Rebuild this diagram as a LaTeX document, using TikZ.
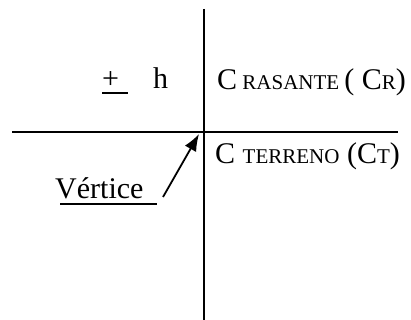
\documentclass[tikz,border=0pt]{standalone}
\usepackage{fontspec}
\setmainfont{Liberation Serif}
\usetikzlibrary{arrows.meta}

\newcommand{\smc}[1]{{\fontsize{21}{24}\selectfont #1}}

\begin{document}
\begin{tikzpicture}[x=1pt, y=-1pt]

  \tikzset{axis/.style = {line width=1.8pt}}
  \tikzset{lbl/.style = {inner sep=0pt, anchor=base west, font=\fontsize{30}{36}\selectfont}}
  \tikzset{edge/.style = {-{Latex[length=17pt,width=13pt]}, line width=1.8pt}}
  \useasboundingbox (0,0) rectangle (411,320);
  % axes
  \coordinate (top) at (204,9);
  \coordinate (bot) at (204,320);
  \coordinate (lft) at (12,132);
  \coordinate (rgt) at (398,132);
  \draw[axis] (top) -- (bot);
  \draw[axis] (lft) -- (rgt);
  % labels
  \node[lbl] (plus) at (102,89) {+};
  \node[lbl] (h) at (153,89) {h};
  \node[lbl] (rasante) at (217,90) {C\smc{ RASANTE}\,( C\smc{R})};
  \node[lbl] (terreno) at (215,164) {C \smc{TERRENO} (C\smc{T})};
  \node[lbl] (vertice) at (55,198) {Vértice};
  % underlines
  \draw[axis] ([yshift=-4pt]plus.base west) -- ++(26,0);
  \draw[axis] ([shift={(5pt,-6pt)}]vertice.base west) -- ++(97,0);
  % arrow
  \coordinate (tail) at (163,197);
  \coordinate (tip) at (199,134);
  \draw[edge] (tail) -- (tip);
\end{tikzpicture}
\end{document}
